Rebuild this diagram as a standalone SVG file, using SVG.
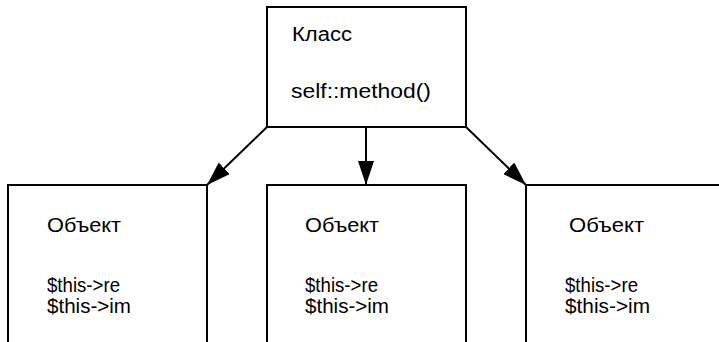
<svg xmlns="http://www.w3.org/2000/svg" width="719" height="342" viewBox="0 0 719 342">
<style>
.box{fill:#fff;stroke:#000;stroke-width:2}
.t{font-family:"Liberation Sans",Arial,sans-serif;font-size:20px;fill:#000}
.c{stroke:#000;stroke-width:2;fill:none}
</style>
<defs>
<marker id="ah" markerUnits="userSpaceOnUse" viewBox="0 0 24 16" refX="24" refY="8" markerWidth="24" markerHeight="16" orient="auto">
<path d="M0,0 L24,8 L0,16 Z" fill="#000"/>
</marker>
</defs>
<rect width="719" height="342" fill="#fff"/>
<g id="class">
<rect class="box" x="267" y="7" width="199" height="120"/>
<text class="t" x="292" y="40.5" textLength="60" lengthAdjust="spacingAndGlyphs">Класс</text>
<text class="t" x="291" y="98" textLength="140" lengthAdjust="spacingAndGlyphs">self::method()</text>
</g>
<g id="obj1">
<rect class="box" x="8" y="185" width="199" height="170"/>
<text class="t" x="47" y="232" textLength="74" lengthAdjust="spacingAndGlyphs">Объект</text>
<text class="t" x="47" y="291.5" textLength="73" lengthAdjust="spacingAndGlyphs">$this-&gt;re</text>
<text class="t" x="47" y="313" textLength="84" lengthAdjust="spacingAndGlyphs">$this-&gt;im</text>
</g>
<g id="obj2">
<rect class="box" x="267" y="185" width="199" height="170"/>
<text class="t" x="305" y="232" textLength="74" lengthAdjust="spacingAndGlyphs">Объект</text>
<text class="t" x="305" y="291.5" textLength="73" lengthAdjust="spacingAndGlyphs">$this-&gt;re</text>
<text class="t" x="305" y="313" textLength="84" lengthAdjust="spacingAndGlyphs">$this-&gt;im</text>
</g>
<g id="obj3">
<rect class="box" x="526" y="185" width="199" height="170"/>
<text class="t" x="569" y="232" textLength="75" lengthAdjust="spacingAndGlyphs">Объект</text>
<text class="t" x="565" y="291.5" textLength="73" lengthAdjust="spacingAndGlyphs">$this-&gt;re</text>
<text class="t" x="565" y="313" textLength="85" lengthAdjust="spacingAndGlyphs">$this-&gt;im</text>
</g>
<g id="connectors">
<line class="c" x1="267" y1="127" x2="207" y2="185" marker-end="url(#ah)"/>
<line class="c" x1="366" y1="127" x2="366" y2="185" marker-end="url(#ah)"/>
<line class="c" x1="466" y1="127" x2="526" y2="185" marker-end="url(#ah)"/>
</g>
</svg>
